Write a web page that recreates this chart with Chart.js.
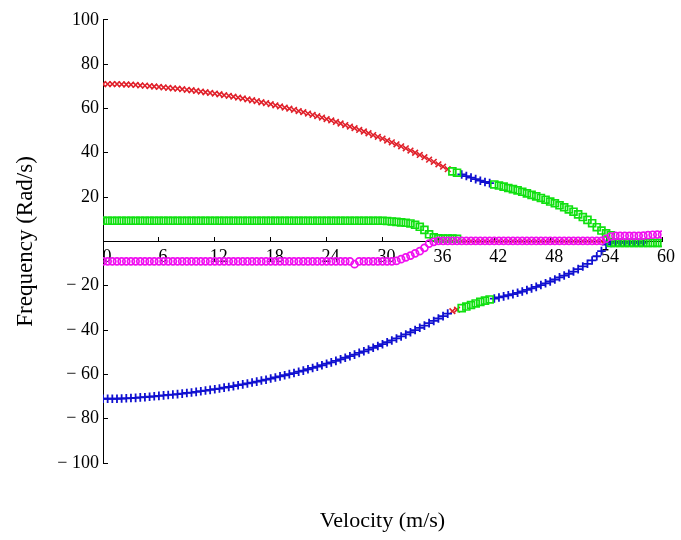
<!DOCTYPE html>
<html>
<head>
<meta charset="utf-8">
<script src="https://cdn.jsdelivr.net/npm/chart.js@4/dist/chart.umd.min.js"></script>
<style>
  html, body { margin: 0; padding: 0; background: #fff; }
  #wrap { width: 681px; height: 540px; }
</style>
</head>
<body>
<div id="wrap"><canvas id="chart" width="681" height="540"></canvas></div>
<script>
// Root-locus style plot: imaginary part of each eigenvalue vs flow velocity.
// Sampled every 0.5 m/s; each colour segment starts at a given velocity.

const VELOCITY = [
  0, 0.5, 1, 1.5, 2, 2.5, 3, 3.5, 4, 4.5, 5, 5.5, 6, 6.5, 7, 7.5, 8, 8.5, 9, 9.5,
  10, 10.5, 11, 11.5, 12, 12.5, 13, 13.5, 14, 14.5, 15, 15.5, 16, 16.5, 17, 17.5, 18, 18.5, 19, 19.5,
  20, 20.5, 21, 21.5, 22, 22.5, 23, 23.5, 24, 24.5, 25, 25.5, 26, 26.5, 27, 27.5, 28, 28.5, 29, 29.5,
  30, 30.5, 31, 31.5, 32, 32.5, 33, 33.5, 34, 34.5, 35, 35.5, 36, 36.5, 37, 37.5, 38, 38.5, 39, 39.5,
  40, 40.5, 41, 41.5, 42, 42.5, 43, 43.5, 44, 44.5, 45, 45.5, 46, 46.5, 47, 47.5, 48, 48.5, 49, 49.5,
  50, 50.5, 51, 51.5, 52, 52.5, 53, 53.5, 54, 54.5, 55, 55.5, 56, 56.5, 57, 57.5, 58, 58.5, 59, 59.5,
  60,
];

const X_TICKS = [0, 6, 12, 18, 24, 30, 36, 42, 48, 54, 60];
const Y_TICKS = [-100, -80, -60, -40, -20, 0, 20, 40, 60, 80, 100];

// upper branch, red x, from 0 m/s
const redTop = [
  71.0, 71.0, 71.0, 71.0, 70.9, 70.8, 70.7, 70.6, 70.4, 70.3,
  70.1, 69.9, 69.7, 69.5, 69.3, 69.1, 68.9, 68.7, 68.4, 68.2,
  67.9, 67.6, 67.3, 67.0, 66.7, 66.4, 66.0, 65.7, 65.3, 64.9,
  64.5, 64.1, 63.7, 63.3, 62.8, 62.4, 61.9, 61.4, 60.9, 60.4,
  59.9, 59.4, 58.8, 58.3, 57.7, 57.1, 56.5, 55.9, 55.2, 54.6,
  53.9, 53.2, 52.5, 51.8, 51.1, 50.3, 49.6, 48.8, 48.0, 47.2,
  46.4, 45.5, 44.7, 43.8, 42.9, 42.0, 41.0, 40.0, 39.0, 38.0,
  36.9, 35.9, 34.8, 33.7, 32.6,
];
// lower branch, blue +, from 0 m/s
const blueLow = [
  -71.0, -71.0, -71.0, -71.0, -70.9, -70.8, -70.7, -70.6, -70.4, -70.3,
  -70.1, -69.9, -69.7, -69.5, -69.3, -69.1, -68.9, -68.7, -68.4, -68.2,
  -67.9, -67.6, -67.3, -67.0, -66.7, -66.4, -66.0, -65.7, -65.3, -64.9,
  -64.5, -64.1, -63.7, -63.3, -62.8, -62.4, -61.9, -61.4, -60.9, -60.4,
  -59.9, -59.4, -58.8, -58.3, -57.7, -57.1, -56.5, -55.9, -55.2, -54.6,
  -53.9, -53.2, -52.5, -51.8, -51.1, -50.3, -49.6, -48.8, -48.0, -47.2,
  -46.4, -45.5, -44.7, -43.8, -42.9, -42.0, -41.0, -40.0, -39.0, -38.0,
  -36.9, -35.9, -34.8, -33.7, -32.6,
];
// middle green line near +9, from 0 m/s
const greenMid = [
  9.3, 9.3, 9.3, 9.3, 9.3, 9.3, 9.3, 9.3, 9.3, 9.3,
  9.3, 9.3, 9.3, 9.3, 9.3, 9.3, 9.3, 9.3, 9.3, 9.3,
  9.3, 9.3, 9.3, 9.3, 9.3, 9.3, 9.3, 9.3, 9.3, 9.3,
  9.3, 9.3, 9.3, 9.3, 9.3, 9.3, 9.3, 9.3, 9.3, 9.3,
  9.3, 9.3, 9.3, 9.3, 9.3, 9.3, 9.3, 9.3, 9.3, 9.3,
  9.3, 9.3, 9.3, 9.3, 9.3, 9.3, 9.3, 9.3, 9.3, 9.3,
  9.3, 9.2, 9.0, 8.8, 8.6, 8.4, 8.1, 7.5, 6.6, 5.2,
  3.2, 1.8, 1.4, 1.3, 1.3, 1.3, 1.2,
];
// middle magenta line near -9, from 0 m/s
const magentaMid = [
  -9.0, -9.0, -9.0, -9.0, -9.0, -9.0, -9.0, -9.0, -9.0, -9.0,
  -9.0, -9.0, -9.0, -9.0, -9.0, -9.0, -9.0, -9.0, -9.0, -9.0,
  -9.0, -9.0, -9.0, -9.0, -9.0, -9.0, -9.0, -9.0, -9.0, -9.0,
  -9.0, -9.0, -9.0, -9.0, -9.0, -9.0, -9.0, -9.0, -9.0, -9.0,
  -9.0, -9.0, -9.0, -9.0, -9.0, -9.0, -9.0, -9.0, -9.0, -9.0,
  -9.0, -9.0, -9.0, -9.0, -10.3, -9.0, -9.0, -9.0, -9.0, -9.0,
  -9.0, -9.0, -9.0, -8.8, -8.0, -7.2, -6.4, -5.4, -4.4, -2.9,
  -1.0, -0.2, 0.2, 0.2, 0.2, 0.2, 0.2, 0.2, 0.2, 0.2,
  0.2, 0.2, 0.2, 0.2, 0.2, 0.2, 0.2, 0.2, 0.2, 0.2,
  0.2, 0.2, 0.2, 0.2, 0.2, 0.2, 0.2, 0.2, 0.2, 0.2,
  0.2, 0.2, 0.2, 0.2, 0.2, 0.2, 0.2, 0.2, 1.2, 2.2,
];
// red x hidden under the zero line, from 36 m/s
const redZero = [
  0.1, 0.1, 0.1, 0.1, 0.1, 0.1, 0.1, 0.1, 0.1, 0.1,
  0.1, 0.1, 0.1, 0.1, 0.1, 0.1, 0.1, 0.1, 0.1, 0.1,
  0.1, 0.1, 0.1, 0.1, 0.1, 0.1, 0.1, 0.1, 0.1, 0.1,
  0.1, 0.1, 0.1, 0.1, 0.1, 0.1,
];
// short swaps after the crossing near 37.5 m/s
const greenTopA = [31.6, 31.0];
const blueTop = [30.2, 29.5, 28.8, 28.1, 27.4, 26.8, 26.3];
const redLow = [-31.5, -30.8];
const greenLowA = [-30.1, -29.4, -28.7, -28.0, -27.3, -26.7, -26.2];
// upper green branch from 42 m/s
const greenTopB = [
  25.7, 25.2, 24.7, 24.1, 23.6, 23.0, 22.4, 21.7, 21.0, 20.3,
  19.6, 18.8, 18.0, 17.2, 16.3, 15.4, 14.4, 13.4, 12.2, 11.0,
  9.7, 8.2, 6.4, 4.9, 3.6, 2.8,
];
// lower blue branch from 42 m/s
const blueLowB = [
  -25.8, -25.3, -24.8, -24.3, -23.8, -23.2, -22.6, -21.9, -21.2, -20.5,
  -19.7, -18.9, -18.1, -17.2, -16.2, -15.4, -14.6, -13.6, -12.5, -11.3,
  -10.1, -8.6, -6.7, -4.4, -1.5, -0.7, -0.6, -0.6, -0.6, -0.6,
  -0.6, -0.6, -0.6,
];
// tails past 54 m/s
const greenTail = [-0.7, -0.7, -0.7, -0.7, -0.7, -0.7, -0.7, -0.7, -0.7, -0.7, -0.7, -0.7];
const magentaTail = [2.5, 2.5, 2.5, 2.5, 2.5, 2.5, 2.6, 2.8, 3.0, 3.1, 3.1];

const RED = '#e0202a', BLUE = '#1010d0', GREEN = '#10e010', MAGENTA = '#f010f0';

const FONT = 'Liberation Serif, Times New Roman, serif';
Chart.defaults.font.family = FONT;
Chart.defaults.color = '#000';

// Turn a segment starting at velocity v0 into {x, y} points.
function seg(v0, vals) {
  const i0 = VELOCITY.indexOf(v0);
  return vals.map((f, i) => ({ x: VELOCITY[i0 + i], y: f }));
}

const STYLE = {
  red: { pointStyle: 'crossRot', pointRadius: 4, pointBorderWidth: 1.6, borderColor: RED },
  blue: { pointStyle: 'cross', pointRadius: 4.3, pointBorderWidth: 1.8, borderColor: BLUE },
  green: { pointStyle: 'rect', pointRadius: 4.9, pointBorderWidth: 1.7, borderColor: GREEN },
  magenta: { pointStyle: 'circle', pointRadius: 3.5, pointBorderWidth: 1.7, borderColor: MAGENTA },
};

function ds(kind, v0, vals) {
  const s = STYLE[kind];
  return {
    data: seg(v0, vals),
    showLine: false,
    pointStyle: s.pointStyle,
    pointRadius: s.pointRadius,
    pointBorderWidth: s.pointBorderWidth,
    pointBorderColor: s.borderColor,
    pointBackgroundColor: 'rgba(0,0,0,0)',
    pointHoverRadius: s.pointRadius,
  };
}

// first dataset is drawn on top
const datasets = [
  ds('magenta', 55, magentaTail),
  ds('magenta', 0, magentaMid),
  ds('green', 54.5, greenTail),
  ds('green', 0, greenMid),
  ds('green', 37.5, greenTopA),
  ds('green', 42, greenTopB),
  ds('green', 38.5, greenLowA),
  ds('blue', 0, blueLow),
  ds('blue', 38.5, blueTop),
  ds('blue', 42, blueLowB),
  ds('red', 0, redTop),
  ds('red', 37.5, redLow),
  ds('red', 36, redZero),
];

const tickFont = { family: FONT, size: 18 };

new Chart(document.getElementById('chart'), {
  type: 'scatter',
  data: { datasets },
  options: {
    responsive: false,
    animation: false,
    events: [],
    layout: { padding: { top: 18, right: 18, bottom: 0, left: 0 } },
    plugins: { legend: { display: false }, tooltip: { enabled: false } },
    scales: {
      x: {
        type: 'linear', min: 0, max: 60,
        position: { y: 0 },
        afterBuildTicks: (s) => { s.ticks = X_TICKS.map((v) => ({ value: v })); },
        ticks: { font: tickFont, color: '#000', padding: 10, labelOffset: 4, maxRotation: 0, autoSkip: false },
        grid: { drawOnChartArea: false, tickLength: -5, color: '#000' },
        border: { color: '#000', width: 1 },
        afterFit: (s) => { s.height = 0; },
      },
      xTitle: {
        type: 'linear', min: 0, max: 60, position: 'bottom', axis: 'x',
        ticks: { display: false },
        grid: { display: false, drawTicks: false },
        border: { display: false },
        title: { display: true, text: 'Velocity (m/s)', color: '#000',
          font: { family: FONT, size: 22 }, padding: { top: 0, bottom: 6 } },
        afterFit: (s) => { s.height = 77; },
      },
      y: {
        type: 'linear', min: -100, max: 100, position: 'left',
        afterBuildTicks: (s) => { s.ticks = Y_TICKS.map((v) => ({ value: v })); },
        ticks: {
          font: tickFont, color: '#000', padding: 9, autoSkip: false,
          callback: (v) => (v === 0 ? '' : v < 0 ? '\u2212 ' + (-v) : String(v)),
        },
        grid: { drawOnChartArea: false, tickLength: -5, color: '#000' },
        border: { color: '#000', width: 1 },
        title: { display: true, text: 'Frequency (Rad/s)', color: '#000',
          font: { family: FONT, size: 23 }, padding: { top: 12, bottom: 0 } },
        afterFit: (s) => { s.width = 103; },
      },
    },
  },
});
</script>
</body>
</html>
